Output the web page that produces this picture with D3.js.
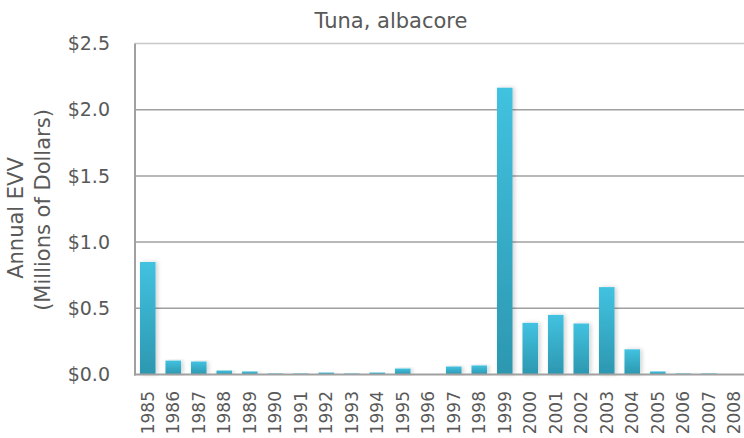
<!DOCTYPE html>
<html>
<head>
<meta charset="utf-8">
<script src="https://cdn.jsdelivr.net/npm/d3@7"></script>
<style>
  body { margin: 0; background: #fff; }
  svg { display: block; }
</style>
</head>
<body>
<svg id="chart" width="744" height="438"></svg>
<script>
const title = "Tuna, albacore";
const years = ["1985","1986","1987","1988","1989","1990","1991","1992","1993","1994","1995","1996",
  "1997","1998","1999","2000","2001","2002","2003","2004","2005","2006","2007","2008"];
const evv = [0.85, 0.105, 0.098, 0.03, 0.023, 0.008, 0.008, 0.015, 0.008, 0.015, 0.045, 0,
  0.06, 0.068, 2.166, 0.39, 0.45, 0.385, 0.66, 0.19, 0.023, 0.008, 0.008, 0];
const yTicks = [0, 0.5, 1.0, 1.5, 2.0, 2.5];

const margin = { top: 43.5, right: -3, bottom: 63.5, left: 135 };
const width = 744, height = 438;
const font = "'DejaVu Sans', sans-serif";
const textColor = "#595959";

const svg = d3.select("#chart").attr("font-family", font);

// gradient + shadow for the bars
const defs = svg.append("defs");
const grad = defs.append("linearGradient")
  .attr("id", "barGrad").attr("x1", 0).attr("y1", 0).attr("x2", 0).attr("y2", 1);
grad.append("stop").attr("offset", "0%").attr("stop-color", "#41c2e0");
grad.append("stop").attr("offset", "100%").attr("stop-color", "#2d97b0");
const shadow = defs.append("filter").attr("id", "shadow")
  .attr("x", "-50%").attr("y", "-10%").attr("width", "200%").attr("height", "120%");
shadow.append("feDropShadow").attr("dx", 2).attr("dy", 0).attr("stdDeviation", 2)
  .attr("flood-color", "#000").attr("flood-opacity", 0.18);

const x = d3.scaleBand()
  .domain(years)
  .range([margin.left, width - margin.right])
  .paddingInner(0.39)
  .paddingOuter(0.195);

const y = d3.scaleLinear()
  .domain([0, 2.5])
  .range([height - margin.bottom, margin.top]);

// gridlines
svg.append("g")
  .selectAll("line")
  .data(yTicks.filter(d => d > 0))
  .join("line")
  .attr("x1", margin.left).attr("x2", width)
  .attr("y1", d => y(d)).attr("y2", d => y(d))
  .attr("stroke", d => d === 2.5 ? "#c8c8c8" : "#a0a0a0")
  .attr("stroke-width", 1.5);

// y tick labels
svg.append("g")
  .selectAll("text")
  .data(yTicks)
  .join("text")
  .attr("x", 110)
  .attr("y", d => y(d))
  .attr("dy", "0.35em")
  .attr("text-anchor", "end")
  .attr("font-size", 19)
  .attr("fill", textColor)
  .text(d => "$" + d3.format(".1f")(d));

// bars
svg.append("g")
  .selectAll("rect")
  .data(years.map((yr, i) => ({ yr, v: evv[i] })).filter(d => d.v > 0))
  .join("rect")
  .attr("x", d => x(d.yr))
  .attr("y", d => y(d.v))
  .attr("width", x.bandwidth())
  .attr("height", d => y(0) - y(d.v))
  .attr("fill", "url(#barGrad)")
  .attr("filter", "url(#shadow)");

// axes lines
svg.append("line")
  .attr("x1", margin.left).attr("x2", margin.left)
  .attr("y1", y(2.5)).attr("y2", y(0) + 1)
  .attr("stroke", "#a0a0a0").attr("stroke-width", 2);
svg.append("line")
  .attr("x1", margin.left - 1).attr("x2", width)
  .attr("y1", y(0)).attr("y2", y(0))
  .attr("stroke", "#a0a0a0").attr("stroke-width", 2);

// x labels
svg.append("g")
  .selectAll("text")
  .data(years)
  .join("text")
  .attr("transform", d => `translate(${x(d) + x.bandwidth() / 2},391) rotate(-90)`)
  .attr("dy", "0.35em")
  .attr("text-anchor", "end")
  .attr("font-size", 17)
  .attr("fill", textColor)
  .text(d => d);

// title
svg.append("text")
  .attr("x", 391).attr("y", 28)
  .attr("text-anchor", "middle")
  .attr("font-size", 21)
  .attr("fill", textColor)
  .text(title);

// y axis title
svg.append("text")
  .attr("transform", "translate(16,218) rotate(-90)")
  .attr("dy", "0.35em")
  .attr("text-anchor", "middle")
  .attr("font-size", 21)
  .attr("fill", textColor)
  .text("Annual EVV");
svg.append("text")
  .attr("transform", "translate(43,210) rotate(-90)")
  .attr("dy", "0.35em")
  .attr("text-anchor", "middle")
  .attr("font-size", 21)
  .attr("fill", textColor)
  .text("(Millions of Dollars)");
</script>
</body>
</html>
